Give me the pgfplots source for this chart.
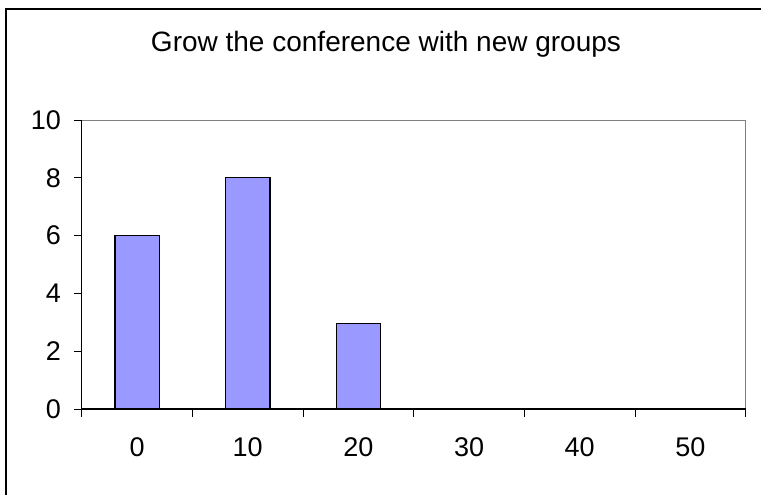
\documentclass[border=0pt]{standalone}
\usepackage{fontspec}
\setmainfont{Liberation Sans}
\usepackage{pgfplots}
\pgfplotsset{compat=1.18}
\definecolor{barfill}{HTML}{9999FF}
\begin{document}
\begin{tikzpicture}
\useasboundingbox (0,0) rectangle (570.75pt,370.5pt);
% chart area frame
\draw[line width=1.1pt] (4.6pt,-20pt) -- (4.6pt,363.6pt) -- (600pt,363.6pt);
% title
\node[anchor=base,inner sep=0pt,font=\fontsize{21}{25}\selectfont] at (289.5pt,331.5pt) {Grow the conference with new groups};
\begin{axis}[
  at={(61.3pt,63.75pt)}, anchor=south west,
  scale only axis, width=498pt, height=216.75pt,
  xmin=-0.5, xmax=5.5, ymin=0, ymax=10,
  axis line style={draw=gray, line width=0.75pt},
  xtick={-0.5,0.5,...,5.5},
  x tick label as interval,
  xticklabels={0,10,20,30,40,50},
  ytick={0,2,...,10},
  tick align=outside, tick pos=left,
  major tick length=6pt,
  tick style={black, line width=0.75pt},
  /pgf/number format/assume math mode=true,
  ticklabel style={font=\fontsize{20.25}{24}\selectfont, inner sep=0pt},
  yticklabel style={xshift=-9.5pt},
  xticklabel style={yshift=-15pt},
  ymajorgrids=false,
  clip=false,
]
\addplot[ybar, bar width=0.4, fill=barfill, draw=black, line width=1pt]
  coordinates {(0,6) (1,8) (2,2.95) (3,0) (4,0) (5,0)};
% dark value and category axes over the grey plot-area border
\draw[black, line width=0.9pt] (rel axis cs:0,1) -- (rel axis cs:0,0) -- (rel axis cs:1,0);
\end{axis}
\end{tikzpicture}
\end{document}
